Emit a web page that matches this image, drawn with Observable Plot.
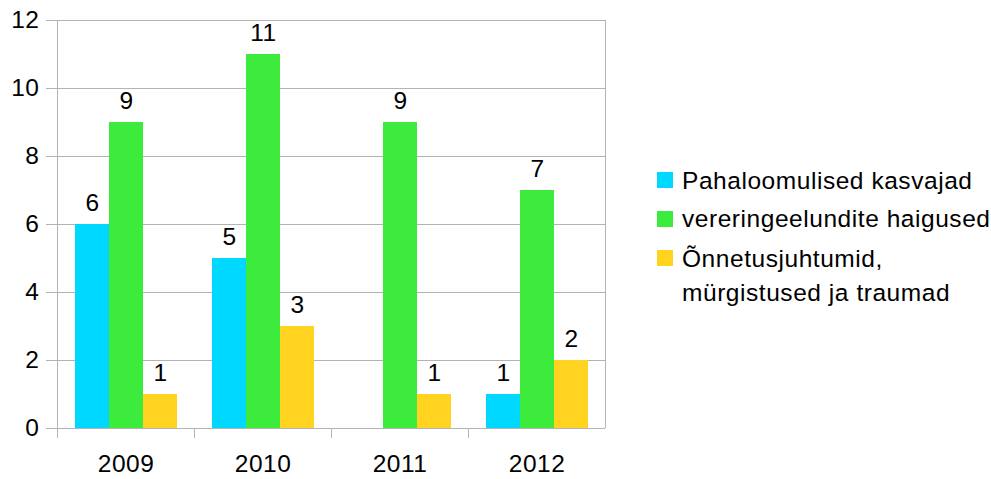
<!DOCTYPE html>
<html><head><meta charset="utf-8">
<script src="https://cdn.jsdelivr.net/npm/d3@7"></script>
<script src="https://cdn.jsdelivr.net/npm/@observablehq/plot@0.6"></script>
<style>
body{margin:0;background:#fff;font-family:"Liberation Sans",Arial,sans-serif;}
#wrap{position:relative;width:991px;height:479px;overflow:hidden;}
.lg{position:absolute;left:0;top:0;font-size:24.5px;letter-spacing:0.55px;line-height:34px;color:#000;white-space:nowrap;}
.sw{position:absolute;width:16px;height:16px;}
</style></head><body><div id="wrap"></div>
<script>
const years = ["2009", "2010", "2011", "2012"];
const seriesNames = ["Pahaloomulised kasvajad", "vereringeelundite haigused", "Õnnetusjuhtumid, mürgistused ja traumad"];
const legendLines = [["Pahaloomulised kasvajad"], ["vereringeelundite haigused"], ["Õnnetusjuhtumid,", "mürgistused ja traumad"]];
const pahaloomulised = [6, 5, null, 1];
const vereringe = [9, 11, 9, 7];
const onnetus = [1, 3, 1, 2];
const colors = ["#00d8ff", "#3deb3d", "#ffd320"];
const yTicks = [0, 2, 4, 6, 8, 10, 12];

const rows = [];
[pahaloomulised, vereringe, onnetus].forEach((vals, s) =>
  vals.forEach((v, i) => rows.push({year: years[i], series: seriesNames[s], value: v})));

const grid = "#b3b3b3";
const chart = Plot.plot({
  width: 991, height: 479,
  marginTop: 20, marginBottom: 51, marginLeft: 55, marginRight: 385,
  style: {fontFamily: "'Liberation Sans', Arial, sans-serif", fontSize: "24.5px", letterSpacing: "0.5px", color: "#000", background: "#fff"},
  fx: {domain: years, padding: 0, label: null},
  x: {domain: seriesNames, paddingInner: 0, paddingOuter: 0.5, axis: null},
  y: {domain: [0, 12], label: null},
  color: {domain: seriesNames, range: colors},
  marks: [
    Plot.gridY(yTicks, {stroke: grid, strokeOpacity: 1}),
    Plot.barY(rows.filter(d => d.value != null), {fx: "year", x: "series", y: "value", fill: "series"}),
    Plot.text(rows.filter(d => d.value), {fx: "year", x: "series", y: "value", text: d => String(d.value), lineAnchor: "bottom", dy: -14, fontSize: 24.5, fill: "#000"}),
    Plot.axisY(yTicks, {tickSize: 11, tickPadding: 7, stroke: grid, strokeOpacity: 1, fill: "#000", fontSize: 24.5, label: null}),
    Plot.axisFx({anchor: "bottom", tickSize: 0, tickPadding: 26, fontSize: 24.5, fill: "#000", label: null})
  ]
});

// frame lines and category boundary ticks from the library's scales
const fx = chart.scale("fx"), ys = chart.scale("y");
const bounds = years.map(y => fx.apply(y)).concat([fx.apply(years[years.length - 1]) + fx.bandwidth]);
const y0 = ys.apply(0), yTop = ys.apply(12);
const g = d3.select(chart).append("g").attr("stroke", grid).attr("stroke-width", 1);
bounds.forEach((b, i) => {
  const x = Math.round(b) + 0.5;
  g.append("line").attr("x1", x).attr("x2", x)
    .attr("y1", i === 0 || i === bounds.length - 1 ? yTop : y0).attr("y2", i === bounds.length - 1 ? y0 : y0 + 10);
});

const wrap = document.getElementById("wrap");
wrap.appendChild(chart);

// legend
const rowTops = [163.5, 202.2, 241.5];
const swatchTops = [172, 211, 250];
legendLines.forEach((lines, i) => {
  const sw = document.createElement("div");
  sw.className = "sw";
  sw.style.background = colors[i];
  sw.style.left = "657px";
  sw.style.top = swatchTops[i] + "px";
  wrap.appendChild(sw);
  const t = document.createElement("div");
  t.className = "lg";
  t.style.left = "682px";
  t.style.top = rowTops[i] + "px";
  t.innerHTML = lines.join("<br>");
  wrap.appendChild(t);
});
</script></body></html>
